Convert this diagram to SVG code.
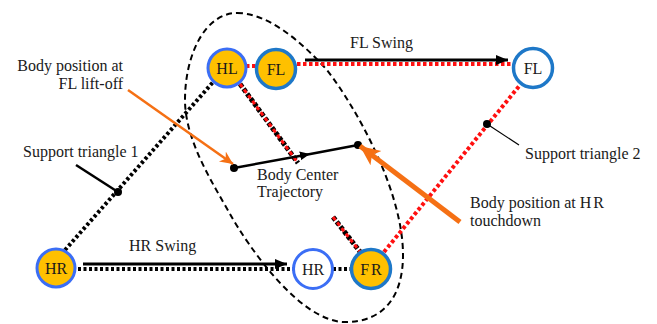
<svg xmlns="http://www.w3.org/2000/svg" width="657" height="324" viewBox="0 0 657 324" font-family="'Liberation Serif', 'Times New Roman', serif">
<style>
text{font-family:'Liberation Serif','Times New Roman',serif;font-size:16px;fill:#1a1a1a}
.nl{text-anchor:middle}
.fillA{fill:#FFC000;stroke:#3B6EF5;stroke-width:3}
.fillB{fill:#FFC000;stroke:#1E78C8;stroke-width:3.5}
.openA{fill:#fff;stroke:#3B6EF5;stroke-width:3}
.openB{fill:#fff;stroke:#1E78C8;stroke-width:3.5}
.red{fill:none;stroke:#FF1010;stroke-width:4;stroke-dasharray:3.5 2.5}
.bdot{fill:none;stroke:#000;stroke-width:4;stroke-dasharray:3 2.5}
.solid{fill:none;stroke:#000}
.orange{fill:none;stroke:#F57014}
</style>
<defs>
<marker id="ahBig" markerUnits="userSpaceOnUse" markerWidth="14" markerHeight="12" refX="12" refY="5" orient="auto"><path d="M0,0 L12,5 L0,10 Z" fill="#000"/></marker>
<marker id="ahMid" markerUnits="userSpaceOnUse" markerWidth="12" markerHeight="10" refX="5" refY="4.5" orient="auto"><path d="M0,0 L10,4.5 L0,9 Z" fill="#000"/></marker>
<marker id="ahOr1" markerUnits="userSpaceOnUse" markerWidth="16" markerHeight="14" refX="13" refY="6" orient="auto"><path d="M0,0 L13,6 L0,12 L4,6 Z" fill="#F57014"/></marker>
<marker id="ahOr2" markerUnits="userSpaceOnUse" markerWidth="24" markerHeight="22" refX="20" refY="9" orient="auto"><path d="M0,0 L20,9 L0,18 L5,9 Z" fill="#F57014"/></marker>
</defs>
<g id="connectors">
<path d="M237,13 C267,13 300,40 327,70 C355,106 403,190 403,255 C403,295 385,322 345,322 C300,322 248,246 230,214 C212,182 185,140 185,100 C185,55 205,13 237,13 Z" fill="none" stroke="#000" stroke-width="2" stroke-dasharray="6 4"/>
<line class="bdot" x1="65" y1="250" x2="214" y2="81"/>
<line class="solid" x1="76" y1="165" x2="118" y2="192" stroke-width="2.5"/>
<circle cx="118" cy="192" r="4" fill="#000"/>
<line class="bdot" x1="78" y1="269" x2="293" y2="269"/>
<line class="bdot" x1="333" y1="269" x2="351" y2="269"/>
<line class="solid" x1="83" y1="264" x2="287" y2="264" stroke-width="3" marker-end="url(#ahBig)"/>
<line class="red" x1="246" y1="66" x2="256" y2="66"/>
<line class="red" x1="297" y1="64" x2="513" y2="64"/>
<line class="solid" x1="305" y1="60" x2="508" y2="60" stroke-width="3" marker-end="url(#ahBig)"/>
<line x1="240" y1="84" x2="298" y2="163" stroke="#000" stroke-width="5" stroke-dasharray="4 2"/>
<line x1="240" y1="84" x2="298" y2="163" stroke="#FF1010" stroke-width="3" stroke-dasharray="4 3"/>
<line x1="333" y1="217" x2="361" y2="253" stroke="#000" stroke-width="5" stroke-dasharray="4 2"/>
<line x1="333" y1="217" x2="361" y2="253" stroke="#FF1010" stroke-width="3" stroke-dasharray="4 3"/>
<line class="red" x1="384" y1="252" x2="520" y2="85"/>
<line class="solid" x1="487" y1="124" x2="519" y2="145" stroke-width="1.2"/>
<circle cx="487" cy="124" r="4" fill="#000"/>
<polyline class="solid" points="234,168 305,155 358,145" stroke-width="2.5" marker-mid="url(#ahMid)"/>
<circle cx="234" cy="168" r="4" fill="#000"/>
<circle cx="358" cy="145" r="4" fill="#000"/>
<line class="orange" x1="128" y1="90" x2="233" y2="164" stroke-width="2.5" marker-end="url(#ahOr1)"/>
<line class="orange" x1="460" y1="222" x2="360" y2="146" stroke-width="5" marker-end="url(#ahOr2)"/>
</g>
<g id="HL"><circle class="fillA" cx="227" cy="68" r="19"/><text class="nl" x="227" y="74">HL</text></g>
<g id="FL"><circle class="fillB" cx="276" cy="69" r="19.5"/><text class="nl" x="276" y="75">FL</text></g>
<g id="FL2"><circle class="openB" cx="533" cy="68" r="19.5"/><text class="nl" x="533" y="74">FL</text></g>
<g id="HR"><circle class="fillA" cx="56" cy="268" r="19"/><text class="nl" x="56" y="274">HR</text></g>
<g id="HR2"><circle class="openA" cx="313" cy="269" r="19.5"/><text class="nl" x="313" y="275">HR</text></g>
<g id="FR"><circle class="fillB" cx="371" cy="269" r="19.5"/><text class="nl" x="372" y="275" letter-spacing="2">FR</text></g>
<g id="labels">
<text x="123" y="71" text-anchor="end">Body position at</text>
<text x="123" y="89" text-anchor="end">FL lift-off</text>
<text x="23" y="157">Support triangle 1</text>
<text x="350" y="48">FL Swing</text>
<text x="525" y="159">Support triangle 2</text>
<text x="470" y="208">Body position at <tspan letter-spacing="2">HR</tspan></text>
<text x="470" y="226">touchdown</text>
<text x="129" y="251">HR Swing</text>
<text x="257" y="180">Body Center</text>
<text x="257" y="197">Trajectory</text>
</g>
</svg>
